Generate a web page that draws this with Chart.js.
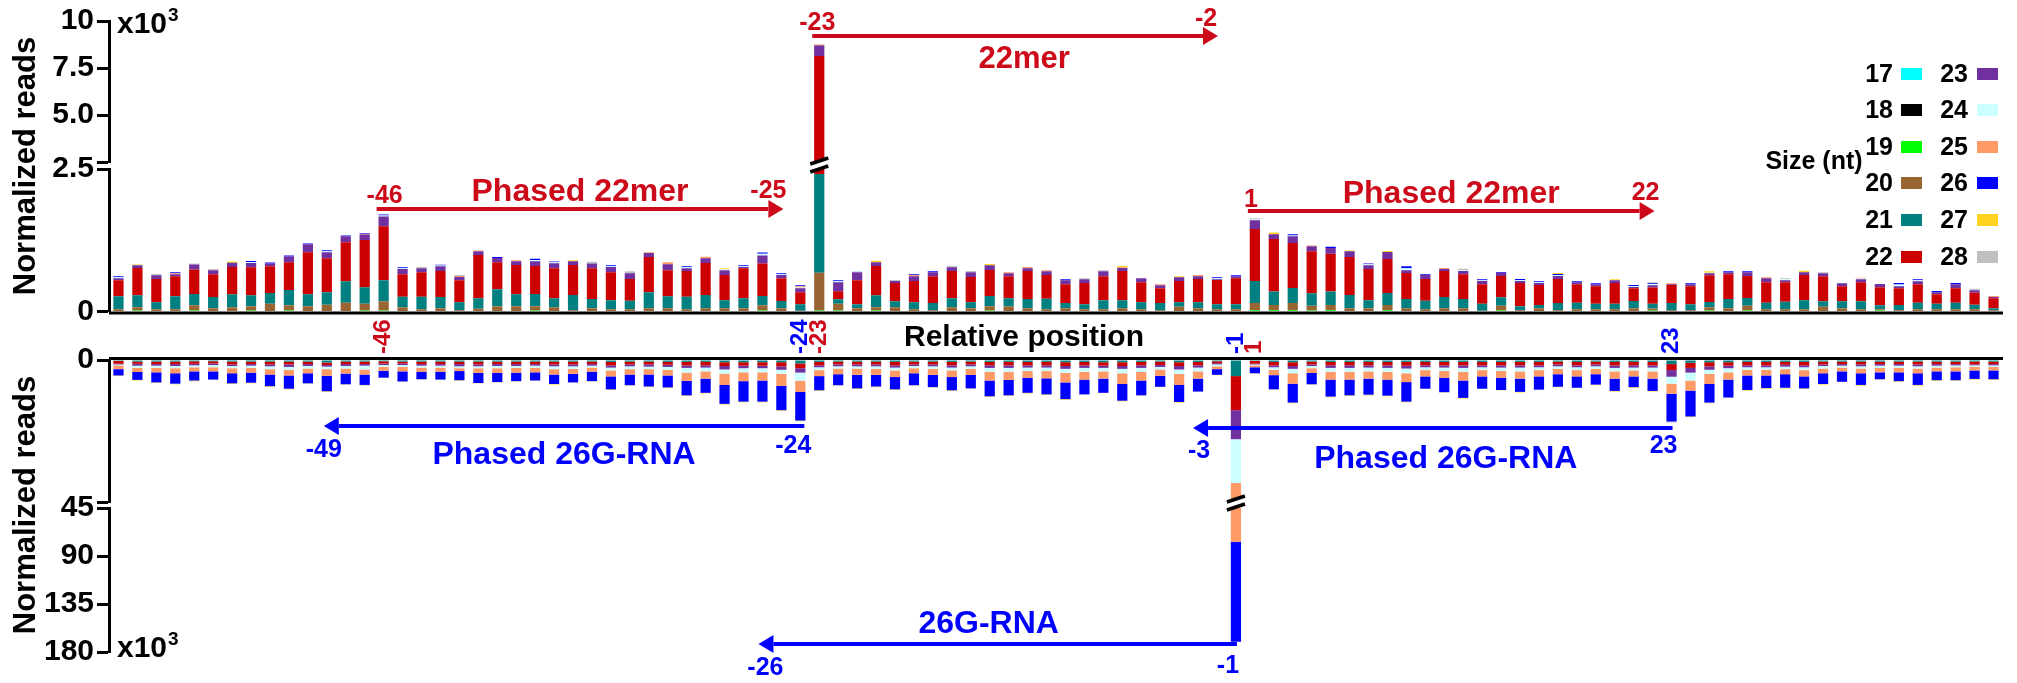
<!DOCTYPE html>
<html>
<head>
<meta charset="utf-8">
<title>Phased 22mer and 26G-RNA reads by relative position</title>
<script src="https://cdn.jsdelivr.net/npm/chart.js@4.4.1/dist/chart.umd.min.js"></script>
<style>
  html, body { margin: 0; padding: 0; background: #fff; }
  #wrap { position: relative; width: 2017px; height: 683px; overflow: hidden; }
  #wrap canvas { position: absolute; left: 0; top: 0; }
</style>
</head>
<body>
<div id="wrap">
  <canvas id="topUpper" width="2017" height="683"></canvas>
  <canvas id="topLower" width="2017" height="683"></canvas>
  <canvas id="botUpper" width="2017" height="683"></canvas>
  <canvas id="botLower" width="2017" height="683"></canvas>
</div>
<script>
// ===== POSITIONS (relative to cleavage site, no 0) =====
const positions = [
  -60, -59, -58, -57, -56, -55, -54, -53, -52, -51,
  -50, -49, -48, -47, -46, -45, -44, -43, -42, -41,
  -40, -39, -38, -37, -36, -35, -34, -33, -32, -31,
  -30, -29, -28, -27, -26, -25, -24, -23, -22, -21,
  -20, -19, -18, -17, -16, -15, -14, -13, -12, -11,
  -10, -9, -8, -7, -6, -5, -4, -3, -2, -1,
  1, 2, 3, 4, 5, 6, 7, 8, 9, 10,
  11, 12, 13, 14, 15, 16, 17, 18, 19, 20,
  21, 22, 23, 24, 25, 26, 27, 28, 29, 30,
  31, 32, 33, 34, 35, 36, 37, 38, 39, 40,
];

// ===== TOP PANEL (sense reads, raw counts) =====
const top19 = [
  0, 17, 0, 0, 17, 0, 0, 17, 0, 17,
  0, 0, 0, 17, 17, 0, 0, 0, 0, 0,
  0, 0, 17, 0, 0, 0, 0, 0, 0, 0,
  0, 0, 0, 0, 17, 0, 0, 17, 17, 0,
  17, 0, 0, 0, 0, 0, 17, 0, 0, 0,
  0, 0, 0, 0, 0, 0, 0, 0, 0, 0,
  23, 23, 23, 17, 23, 0, 0, 23, 0, 0,
  0, 0, 0, 17, 0, 0, 0, 0, 0, 0,
  0, 17, 0, 0, 17, 0, 17, 0, 0, 0,
  0, 0, 0, 17, 0, 0, 0, 0, 0, 0,
];
const top20 = [
  41, 58, 41, 41, 93, 58, 76, 76, 134, 93,
  93, 117, 152, 117, 163, 76, 41, 58, 23, 47,
  93, 93, 76, 76, 23, 58, 41, 41, 58, 58,
  41, 58, 58, 58, 93, 58, 12, 665, 117, 58,
  58, 76, 41, 23, 76, 58, 76, 93, 58, 41,
  58, 41, 41, 58, 41, 23, 82, 58, 41, 41,
  128, 93, 128, 82, 93, 58, 58, 93, 58, 41,
  58, 58, 12, 82, 23, 58, 23, 41, 41, 41,
  58, 35, 23, 23, 58, 58, 82, 41, 41, 41,
  82, 58, 41, 23, 23, 41, 41, 41, 41, 23,
];
const top21 = [
  227, 210, 122, 227, 198, 198, 227, 192, 192, 268,
  210, 222, 379, 292, 367, 181, 216, 198, 140, 187,
  297, 210, 216, 157, 268, 163, 157, 146, 280, 210,
  216, 233, 140, 175, 163, 128, 117, 1730, 82, 70,
  210, 105, 122, 128, 157, 105, 181, 140, 163, 181,
  93, 87, 157, 140, 122, 128, 82, 105, 87, 87,
  385, 233, 262, 222, 233, 233, 140, 210, 163, 146,
  198, 163, 122, 152, 70, 58, 128, 111, 93, 93,
  128, 82, 128, 105, 93, 163, 140, 111, 128, 157,
  99, 122, 140, 70, 93, 111, 93, 111, 76, 35,
];
const top22 = [
  280, 478, 408, 350, 431, 396, 478, 490, 466, 484,
  735, 595, 682, 828, 950, 396, 431, 455, 385, 758,
  472, 513, 490, 525, 525, 536, 490, 385, 618, 455,
  455, 560, 443, 525, 571, 396, 210, 5720, 140, 420,
  513, 321, 373, 466, 478, 443, 455, 385, 490, 420,
  326, 373, 420, 513, 350, 256, 373, 408, 426, 455,
  910, 921, 787, 735, 665, 665, 548, 595, 455, 385,
  455, 431, 344, 373, 408, 350, 420, 326, 309, 367,
  222, 286, 315, 315, 466, 431, 385, 362, 344, 443,
  437, 262, 332, 315, 292, 326, 169, 256, 210, 175,
];
const top23 = [
  35, 47, 64, 35, 87, 70, 76, 76, 52, 105,
  140, 105, 105, 99, 169, 93, 70, 82, 58, 64,
  76, 64, 82, 87, 64, 87, 93, 99, 70, 105,
  47, 82, 82, 23, 140, 58, 70, 572, 157, 140,
  64, 35, 82, 70, 64, 82, 82, 52, 47, 64,
  70, 64, 87, 52, 70, 52, 64, 47, 12, 35,
  157, 87, 122, 87, 99, 99, 64, 122, 47, 70,
  35, 58, 58, 58, 35, 35, 52, 35, 35, 47,
  23, 41, 12, 35, 35, 35, 64, 70, 35, 47,
  52, 52, 52, 58, 35, 52, 35, 70, 47, 23,
];
const top24 = [
  17, 10, 0, 0, 0, 0, 0, 17, 0, 0,
  0, 17, 0, 0, 17, 12, 0, 12, 0, 6,
  0, 0, 23, 17, 0, 0, 12, 0, 0, 0,
  17, 0, 17, 12, 29, 12, 12, 0, 17, 12,
  0, 0, 0, 0, 0, 0, 0, 0, 0, 0,
  0, 0, 0, 0, 0, 0, 0, 0, 17, 0,
  12, 0, 12, 0, 0, 0, 17, 0, 35, 0,
  0, 17, 12, 0, 17, 12, 17, 0, 0, 0,
  17, 23, 0, 0, 12, 0, 0, 0, 17, 0,
  0, 12, 12, 0, 29, 17, 0, 0, 0, 0,
];
const top25 = [
  0, 0, 0, 17, 0, 0, 0, 0, 0, 0,
  0, 0, 0, 12, 0, 0, 0, 0, 17, 10,
  0, 17, 0, 0, 0, 0, 0, 0, 12, 35,
  0, 29, 0, 0, 0, 0, 23, 50, 0, 0,
  0, 0, 23, 0, 0, 0, 0, 17, 23, 17,
  0, 0, 0, 12, 0, 17, 0, 23, 0, 0,
  0, 0, 0, 17, 0, 0, 0, 0, 0, 0,
  17, 0, 0, 0, 0, 0, 0, 0, 0, 0,
  0, 0, 17, 0, 0, 0, 0, 17, 0, 0,
  0, 0, 17, 0, 0, 0, 0, 0, 0, 17,
];
const top26 = [
  17, 0, 0, 17, 0, 0, 0, 17, 17, 17,
  17, 17, 17, 12, 17, 17, 0, 17, 0, 0,
  17, 0, 23, 17, 0, 0, 17, 0, 0, 0,
  17, 0, 0, 17, 23, 17, 17, 0, 17, 6,
  0, 0, 12, 17, 0, 0, 0, 0, 0, 0,
  17, 0, 0, 0, 0, 0, 0, 0, 17, 17,
  0, 0, 23, 0, 23, 0, 17, 0, 35, 12,
  0, 0, 17, 12, 17, 17, 17, 17, 17, 0,
  17, 12, 0, 17, 0, 17, 17, 0, 0, 0,
  0, 0, 0, 0, 29, 17, 23, 23, 0, 0,
];
const top27 = [
  0, 15, 0, 0, 0, 0, 20, 0, 0, 0,
  0, 0, 0, 0, 0, 0, 0, 0, 0, 0,
  0, 0, 0, 0, 17, 0, 0, 0, 0, 0,
  0, 0, 17, 0, 0, 0, 0, 0, 0, 0,
  29, 0, 0, 0, 0, 0, 23, 0, 0, 0,
  0, 0, 0, 23, 0, 0, 17, 0, 0, 0,
  0, 29, 0, 0, 0, 17, 0, 17, 0, 0,
  0, 0, 0, 0, 0, 0, 17, 0, 0, 17,
  0, 0, 0, 0, 23, 0, 0, 0, 0, 29,
  0, 0, 0, 0, 0, 0, 0, 0, 0, 0,
];
const top28 = [
  0, 0, 23, 0, 17, 23, 0, 0, 0, 0,
  0, 0, 0, 0, 0, 0, 23, 0, 17, 0,
  0, 0, 0, 0, 0, 29, 0, 35, 0, 0,
  0, 0, 0, 0, 0, 0, 0, 0, 0, 0,
  0, 17, 0, 0, 23, 23, 0, 0, 0, 0,
  0, 17, 17, 0, 0, 0, 0, 0, 0, 0,
  23, 0, 0, 0, 0, 0, 0, 0, 0, 0,
  0, 23, 0, 0, 0, 0, 0, 0, 0, 0,
  0, 17, 0, 0, 0, 0, 0, 0, 17, 0,
  17, 0, 0, 0, 0, 0, 0, 0, 23, 0,
];

// ===== BOTTOM PANEL (antisense reads, x10^3) =====
const bot21 = [
  0.3, 0.5, 0.5, 0.5, 0.4, 0.4, 0.5, 0.5, 0.5, 0.5,
  0.5, 0.8, 0.5, 0.5, 0.4, 0.5, 0.5, 0.5, 0.5, 0.5,
  0.5, 0.5, 0.5, 0.5, 0.5, 0.5, 0.6, 0.5, 0.5, 0.6,
  0.6, 0.6, 0.7, 0.7, 0.7, 0.7, 1.1, 0.6, 0.5, 0.5,
  0.5, 0.6, 0.5, 0.5, 0.6, 0.5, 0.6, 0.6, 0.6, 0.6,
  0.7, 0.6, 0.7, 0.7, 0.6, 0.5, 0.7, 0.6, 0.4, 5.1,
  0.3, 0.6, 0.7, 0.5, 0.6, 0.6, 0.6, 0.6, 0.6, 0.6,
  0.6, 0.6, 0.6, 0.6, 0.6, 0.6, 0.5, 0.6, 0.5, 0.6,
  0.6, 0.6, 1.3, 0.9, 0.7, 0.7, 0.6, 0.6, 0.6, 0.6,
  0.5, 0.5, 0.5, 0.5, 0.5, 0.5, 0.5, 0.5, 0.5, 0.5,
];
const bot22 = [
  0.9, 0.7, 0.8, 0.8, 0.8, 0.7, 0.9, 0.8, 0.9, 0.9,
  0.8, 0.8, 0.8, 0.8, 0.7, 0.6, 0.8, 0.8, 0.8, 0.9,
  0.8, 0.8, 0.8, 0.9, 0.9, 0.8, 1.1, 0.9, 0.9, 0.9,
  1.1, 1.1, 1.2, 1.1, 1.1, 1.3, 1.5, 1.1, 0.9, 0.9,
  0.9, 1.1, 0.9, 0.9, 1.1, 0.9, 1.1, 1.1, 1.1, 1.1,
  1.2, 1.1, 1.1, 1.2, 1.1, 1.1, 1.2, 1.1, 0.6, 10.8,
  0.9, 1.1, 1.2, 0.9, 1.1, 1.1, 1.1, 1.1, 1.2, 1.1,
  1.1, 1.1, 1.1, 1.1, 1.1, 1.1, 0.9, 1.1, 0.9, 1.1,
  1.1, 1.1, 1.9, 1.6, 1.3, 1.1, 1.1, 1.1, 0.9, 1.1,
  0.9, 0.8, 0.9, 0.8, 0.8, 0.9, 0.8, 0.8, 0.9, 0.8,
];
const bot23 = [
  0.2, 0.6, 0.5, 0.6, 0.5, 0.5, 0.5, 0.5, 0.6, 0.8,
  0.6, 0.5, 0.6, 0.5, 0.5, 0.5, 0.5, 0.5, 0.7, 0.6,
  0.6, 0.6, 0.5, 0.6, 0.6, 0.5, 0.7, 0.6, 0.7, 0.7,
  0.8, 0.7, 1.1, 0.8, 0.8, 1.1, 1.4, 0.6, 0.6, 0.6,
  0.6, 0.7, 0.5, 0.6, 0.7, 0.6, 0.8, 0.8, 0.7, 0.7,
  0.9, 0.8, 0.7, 0.9, 0.8, 0.6, 1.1, 0.7, 0.4, 9.2,
  0.2, 0.6, 0.9, 0.5, 0.8, 0.8, 0.7, 0.8, 0.9, 0.6,
  0.7, 0.8, 0.6, 0.7, 0.7, 0.6, 0.6, 0.6, 0.6, 0.8,
  0.7, 0.7, 2.1, 1.5, 1.1, 0.8, 0.6, 0.6, 0.6, 0.6,
  0.5, 0.5, 0.6, 0.5, 0.5, 0.6, 0.5, 0.4, 0.3, 0.4,
];
const bot24 = [
  0.3, 0.7, 0.7, 0.7, 0.6, 0.7, 0.7, 0.7, 0.9, 0.9,
  0.8, 0.8, 0.8, 1.2, 0.6, 0.6, 0.6, 0.6, 0.6, 0.6,
  0.7, 0.6, 0.7, 0.9, 0.8, 0.6, 0.9, 0.9, 0.8, 0.9,
  1.5, 1.2, 1.3, 1.3, 1.3, 1.3, 2.6, 0.9, 0.7, 0.7,
  0.8, 0.9, 0.7, 0.8, 0.9, 0.8, 1.2, 1.2, 1.1, 1.1,
  1.3, 1.2, 1.1, 1.4, 1.3, 0.8, 1.4, 1.2, 0.6, 13.9,
  0.3, 0.8, 1.4, 0.7, 1.2, 1.2, 1.2, 1.2, 1.5, 0.9,
  1.1, 1.3, 0.9, 1.1, 1.2, 0.9, 0.8, 0.9, 0.8, 1.1,
  0.9, 1.2, 2.2, 2.5, 1.3, 1.3, 0.8, 0.8, 0.8, 0.9,
  0.8, 0.6, 0.7, 0.7, 0.7, 0.7, 0.6, 0.6, 0.5, 0.5,
];
const bot25 = [
  1.2, 1.3, 1.4, 1.6, 1.3, 1.3, 1.6, 1.5, 1.7, 1.8,
  1.5, 2.1, 1.6, 1.6, 1.2, 1.4, 1.3, 1.3, 0.9, 1.5,
  1.5, 1.5, 1.4, 1.7, 1.6, 1.3, 1.9, 1.7, 1.7, 1.8,
  2.6, 2.3, 3.6, 2.8, 2.6, 3.8, 3.5, 1.9, 1.8, 2.0,
  1.9, 2.1, 1.6, 1.9, 2.1, 1.9, 2.8, 2.6, 2.1, 2.3,
  3.0, 2.5, 2.3, 3.4, 2.7, 2.0, 3.5, 2.3, 0.9, 37.6,
  0.6, 1.7, 3.3, 1.5, 2.5, 2.5, 2.3, 2.5, 2.8, 2.0,
  2.1, 2.7, 2.0, 2.1, 2.3, 2.0, 1.7, 2.0, 1.7, 2.3,
  1.9, 2.3, 3.2, 3.2, 3.2, 2.3, 1.8, 1.8, 1.6, 2.0,
  1.5, 1.2, 1.5, 1.4, 1.4, 1.5, 1.2, 1.3, 1.1, 1.1,
];
const bot26 = [
  2.0, 2.5, 3.2, 3.3, 2.9, 2.6, 3.2, 3.2, 3.7, 4.2,
  3.2, 4.9, 3.4, 3.3, 2.2, 3.2, 2.4, 2.5, 2.9, 3.2,
  2.9, 2.7, 2.6, 3.0, 2.7, 3.0, 4.1, 3.4, 3.8, 3.8,
  4.6, 4.5, 6.0, 6.5, 6.7, 7.7, 9.1, 4.5, 3.5, 4.3,
  3.7, 3.9, 3.8, 3.9, 4.2, 4.3, 5.0, 4.9, 4.8, 5.1,
  5.3, 4.7, 4.5, 5.3, 4.7, 3.5, 5.4, 4.1, 1.8, 93.7,
  1.9, 4.5, 6.0, 3.6, 5.4, 5.0, 5.1, 5.1, 6.2, 3.9,
  4.6, 5.5, 3.9, 3.9, 4.2, 4.2, 4.0, 3.6, 3.3, 3.9,
  3.4, 3.9, 8.8, 8.2, 5.9, 5.7, 4.6, 4.0, 4.3, 3.8,
  3.4, 3.3, 3.7, 2.2, 2.8, 3.7, 2.8, 2.8, 2.7, 2.8,
];
const bot27 = [
  0.2, 0.2, 0.2, 0.2, 0.2, 0.1, 0.2, 0.2, 0.2, 0.2,
  0.1, 0.2, 0.1, 0.1, 0.1, 0.1, 0.1, 0.1, 0.2, 0.1,
  0.1, 0.1, 0.1, 0.2, 0.1, 0.1, 0.2, 0.1, 0.2, 0.2,
  0.2, 0.2, 0.2, 0.2, 0.2, 0.2, 0.2, 0.2, 0.1, 0.2,
  0.2, 0.2, 0.1, 0.1, 0.2, 0.1, 0.2, 0.2, 0.2, 0.2,
  0.2, 0.1, 0.1, 0.2, 0.1, 0.1, 0.2, 0.1, 0.1, 0,
  0.1, 0.1, 0.2, 0.1, 0.2, 0.2, 0.2, 0.2, 0.2, 0.1,
  0.1, 0.2, 0.1, 0.1, 0.2, 0.1, 0.1, 0.1, 0.2, 0.2,
  0.2, 0.2, 0, 0.2, 0.2, 0, 0.2, 0.2, 0.2, 0.2,
  0.2, 0.1, 0.2, 0.1, 0.2, 0.2, 0.2, 0.2, 0.2, 0.2,
];
const bot28 = [
  0, 0, 0, 0, 0.1, 0, 0, 0, 0, 0,
  0, 0, 0, 0.1, 0, 0.1, 0, 0, 0, 0,
  0, 0, 0, 0, 0, 0, 0, 0, 0, 0,
  0, 0, 0, 0, 0, 0, 0, 0, 0, 0,
  0, 0, 0, 0, 0, 0, 0, 0, 0, 0,
  0, 0, 0, 0, 0, 0, 0, 0, 0, 0,
  0, 0, 0, 0, 0, 0, 0, 0, 0, 0,
  0, 0, 0, 0, 0, 0, 0, 0, 0, 0,
  0, 0, 0.3, 0, 0, 0, 0, 0, 0, 0,
  0, 0, 0, 0, 0, 0, 0, 0, 0, 0,
];

// ===== AXIS TICKS =====
const topUpperTicks = [2500, 5000, 7500, 10000];
const topUpperLabels = ['', '5.0', '7.5', '10'];
const topLowerTicks = [0, 2500];
const topLowerLabels = ['0', '2.5'];
const botUpperTicks = [0, 45];
const botUpperLabels = ['0', ''];
const botLowerTicks = [45, 90, 135, 180];
const botLowerLabels = ['45', '90', '135', '180'];

// ===== LEGEND =====
const sizeCols = [[17, 18, 19, 20, 21, 22], [23, 24, 25, 26, 27, 28]];

// ===== COLORS =====
const COLORS = {
  17: '#00FFFF',
  18: '#000000',
  19: '#00FF00',
  20: '#996633',
  21: '#008080',
  22: '#CC0000',
  23: '#7030A0',
  24: '#CCFFFF',
  25: '#FF9966',
  26: '#0000FF',
  27: '#FFD320',
  28: '#C0C0C0',
};
const RED = '#CC0A1A';
const BLUE = '#0000FF';
const FONT = '"Liberation Sans", Arial, Helvetica, sans-serif';

const topSeries = [
  [19, top19], [20, top20], [21, top21], [22, top22], [23, top23],
  [24, top24], [25, top25], [26, top26], [27, top27], [28, top28],
];
const bottomSeries = [
  [21, bot21], [22, bot22], [23, bot23], [24, bot24], [25, bot25],
  [26, bot26], [27, bot27], [28, bot28],
];

// ===== DRAW HELPERS =====
function xAt(chart, pos) {
  return chart.scales.x.getPixelForValue(positions.indexOf(pos));
}

function label(ctx, str, x, y, size, color, align) {
  ctx.font = `bold ${size}px ${FONT}`;
  ctx.fillStyle = color;
  ctx.textAlign = align || 'center';
  ctx.textBaseline = 'alphabetic';
  ctx.fillText(str, x, y);
}

function vlabel(ctx, str, x, y, size, color, align) {
  ctx.save();
  ctx.translate(x, y);
  ctx.rotate(-Math.PI / 2);
  ctx.font = `bold ${size}px ${FONT}`;
  ctx.fillStyle = color;
  ctx.textAlign = align || 'center';
  ctx.textBaseline = 'middle';
  ctx.fillText(str, 0, 0);
  ctx.restore();
}

function arrow(ctx, xTail, xHead, y, color) {
  const dir = xHead > xTail ? 1 : -1;
  const headLen = 15;
  const headHalf = 9;
  ctx.strokeStyle = color;
  ctx.fillStyle = color;
  ctx.lineWidth = 4;
  ctx.beginPath();
  ctx.moveTo(xTail, y);
  ctx.lineTo(xHead - dir * headLen, y);
  ctx.stroke();
  ctx.beginPath();
  ctx.moveTo(xHead, y);
  ctx.lineTo(xHead - dir * headLen, y - headHalf);
  ctx.lineTo(xHead - dir * headLen, y + headHalf);
  ctx.closePath();
  ctx.fill();
}

function breakMark(ctx, x, y) {
  ctx.fillStyle = '#fff';
  ctx.beginPath();
  ctx.moveTo(x - 9, y - 1);
  ctx.lineTo(x + 9, y - 7);
  ctx.lineTo(x + 9, y + 1);
  ctx.lineTo(x - 9, y + 7);
  ctx.closePath();
  ctx.fill();
  ctx.strokeStyle = '#000';
  ctx.lineWidth = 3.5;
  ctx.beginPath();
  ctx.moveTo(x - 9, y - 1);
  ctx.lineTo(x + 9, y - 7);
  ctx.moveTo(x - 9, y + 7);
  ctx.lineTo(x + 9, y + 1);
  ctx.stroke();
}

function powerLabel(ctx, x, y) {
  label(ctx, 'x10', x, y, 30, '#000', 'left');
  const w = ctx.measureText('x10').width;
  label(ctx, '3', x + w + 1, y - 12, 19, '#000', 'left');
}

// ===== PANEL DECORATIONS =====
const topUpperDecor = {
  id: 'topUpperDecor',
  afterDraw(chart) {
    const ctx = chart.ctx;
    ctx.save();
    powerLabel(ctx, 117, 33);
    vlabel(ctx, 'Normalized reads', 26, 166, 31, '#000');

    const tail = xAt(chart, -23) - 7;
    const head = xAt(chart, -2) + 1;
    arrow(ctx, tail, head, 36, RED);
    label(ctx, '-23', xAt(chart, -23) - 2, 30, 25, RED);
    label(ctx, '-2', xAt(chart, -2) - 11, 26, 25, RED);
    label(ctx, '22mer', (tail + head) / 2 + 9, 68, 31, RED);

    // legend
    const rowsY = [74, 110, 147, 183, 220, 257];
    const textRight = [1893, 1968];
    const boxLeft = [1901, 1977];
    sizeCols.forEach((col, c) => {
      col.forEach((size, r) => {
        ctx.font = `bold 25px ${FONT}`;
        ctx.fillStyle = '#000';
        ctx.textAlign = 'right';
        ctx.textBaseline = 'middle';
        ctx.fillText(String(size), textRight[c], rowsY[r] + 1);
        ctx.fillStyle = COLORS[size];
        ctx.fillRect(boxLeft[c], rowsY[r] - 6, 21, 12);
      });
    });
    ctx.font = `bold 25px ${FONT}`;
    ctx.fillStyle = '#000';
    ctx.textAlign = 'center';
    ctx.textBaseline = 'middle';
    ctx.fillText('Size (nt)', 1814, 162);
    ctx.restore();
  },
};

const topLowerDecor = {
  id: 'topLowerDecor',
  beforeDatasetsDraw(chart) {
    const { ctx, chartArea } = chart;
    const y0 = chart.scales.y.getPixelForValue(0);
    ctx.save();
    ctx.fillStyle = '#000';
    ctx.fillRect(chartArea.left, y0, chartArea.right - chartArea.left, 3);
    ctx.restore();
  },
  afterDraw(chart) {
    const ctx = chart.ctx;
    ctx.save();
    breakMark(ctx, xAt(chart, -23), 165);

    let tail = xAt(chart, -46) - 7;
    let head = xAt(chart, -25) + 2;
    arrow(ctx, tail, head, 209, RED);
    label(ctx, '-46', xAt(chart, -46) + 1, 203, 25, RED);
    label(ctx, '-25', xAt(chart, -25) - 13, 198, 25, RED);
    label(ctx, 'Phased 22mer', (tail + head) / 2, 201, 32, RED);

    tail = xAt(chart, 1) - 7;
    head = xAt(chart, 22) + 2;
    arrow(ctx, tail, head, 211, RED);
    label(ctx, '1', xAt(chart, 1) - 4, 207, 25, RED);
    label(ctx, '22', xAt(chart, 22) - 7, 200, 25, RED);
    label(ctx, 'Phased 22mer', (tail + head) / 2, 203, 32, RED);

    // marked positions under the axis
    [[-46, RED], [-24, BLUE], [-23, RED], [-1, BLUE], [1, RED], [23, BLUE]].forEach(([pos, color]) => {
      vlabel(ctx, String(pos), xAt(chart, pos), 354, 24, color, 'left');
    });
    label(ctx, 'Relative position', 1024, 346, 30, '#000');
    ctx.restore();
  },
};

const botUpperDecor = {
  id: 'botUpperDecor',
  beforeDatasetsDraw(chart) {
    const { ctx, chartArea } = chart;
    const y0 = chart.scales.y.getPixelForValue(0);
    ctx.save();
    ctx.fillStyle = '#000';
    ctx.fillRect(chartArea.left, y0 - 3, chartArea.right - chartArea.left, 3);
    ctx.restore();
  },
  afterDraw(chart) {
    const ctx = chart.ctx;
    ctx.save();
    let tail = xAt(chart, -24) + 4;
    let head = xAt(chart, -49) - 3;
    arrow(ctx, tail, head, 426, BLUE);
    label(ctx, '-49', xAt(chart, -49) - 3, 457, 25, BLUE);
    label(ctx, '-24', xAt(chart, -24) - 7, 453, 25, BLUE);
    label(ctx, 'Phased 26G-RNA', (tail + head) / 2, 464, 32, BLUE);

    tail = xAt(chart, 23) + 1;
    head = xAt(chart, -3) - 5;
    arrow(ctx, tail, head, 428, BLUE);
    label(ctx, '-3', xAt(chart, -3) + 1, 458, 25, BLUE);
    label(ctx, '23', xAt(chart, 23) - 8, 453, 25, BLUE);
    label(ctx, 'Phased 26G-RNA', (tail + head) / 2 + 13, 468, 32, BLUE);
    ctx.restore();
  },
};

const botLowerDecor = {
  id: 'botLowerDecor',
  afterDraw(chart) {
    const ctx = chart.ctx;
    ctx.save();
    breakMark(ctx, xAt(chart, -1), 503);
    powerLabel(ctx, 117, 657);
    vlabel(ctx, 'Normalized reads', 26, 505, 31, '#000');

    const tail = xAt(chart, -1) + 1;
    const head = xAt(chart, -26) - 4;
    arrow(ctx, tail, head, 644, BLUE);
    label(ctx, '-26', xAt(chart, -26) + 3, 675, 25, BLUE);
    label(ctx, '-1', xAt(chart, -1) - 8, 673, 25, BLUE);
    label(ctx, '26G-RNA', (tail + head) / 2 - 9, 633, 32, BLUE);
    ctx.restore();
  },
};

// ===== CHART BUILDERS =====
function makeDatasets(series) {
  return series.map(([size, data]) => ({
    label: `${size} nt`,
    data,
    backgroundColor: COLORS[size],
    borderWidth: 0,
    barPercentage: 0.54,
    categoryPercentage: 1,
    stack: 'reads',
  }));
}

function yAxis(min, max, ticks, labels, reverse) {
  return {
    stacked: true,
    min,
    max,
    reverse: !!reverse,
    afterBuildTicks: (s) => { s.ticks = ticks.map((v) => ({ value: v })); },
    afterFit: (s) => { s.width = 109; },
    ticks: {
      autoSkip: false,
      padding: 3,
      color: '#000',
      font: { family: FONT, size: 30, weight: 'bold' },
      callback: (v, i) => labels[i],
    },
    grid: { drawOnChartArea: false, drawTicks: true, tickLength: 12, tickWidth: 3, tickColor: '#000' },
    border: { display: true, color: '#000', width: 3 },
  };
}

function makePanel(canvasId, series, y, top, bottom, decor) {
  return new Chart(document.getElementById(canvasId), {
    type: 'bar',
    data: { labels: positions.map(String), datasets: makeDatasets(series) },
    options: {
      responsive: false,
      animation: false,
      events: [],
      layout: { autoPadding: false, padding: { left: 0, right: 14, top, bottom: 683 - bottom } },
      plugins: { legend: { display: false }, tooltip: { enabled: false } },
      scales: {
        x: { stacked: true, display: false, offset: true },
        y,
      },
    },
    plugins: [decor],
  });
}

makePanel('topUpper', topSeries, yAxis(2500, 10000, topUpperTicks, topUpperLabels), 17, 162, topUpperDecor);
makePanel('topLower', topSeries, yAxis(0, 2500, topLowerTicks, topLowerLabels), 169, 311.5, topLowerDecor);
makePanel('botUpper', bottomSeries, yAxis(0, 45, botUpperTicks, botUpperLabels, true), 360, 502, botUpperDecor);
makePanel('botLower', bottomSeries, yAxis(45, 180, botLowerTicks, botLowerLabels, true), 508, 652, botLowerDecor);
</script>
</body>
</html>
